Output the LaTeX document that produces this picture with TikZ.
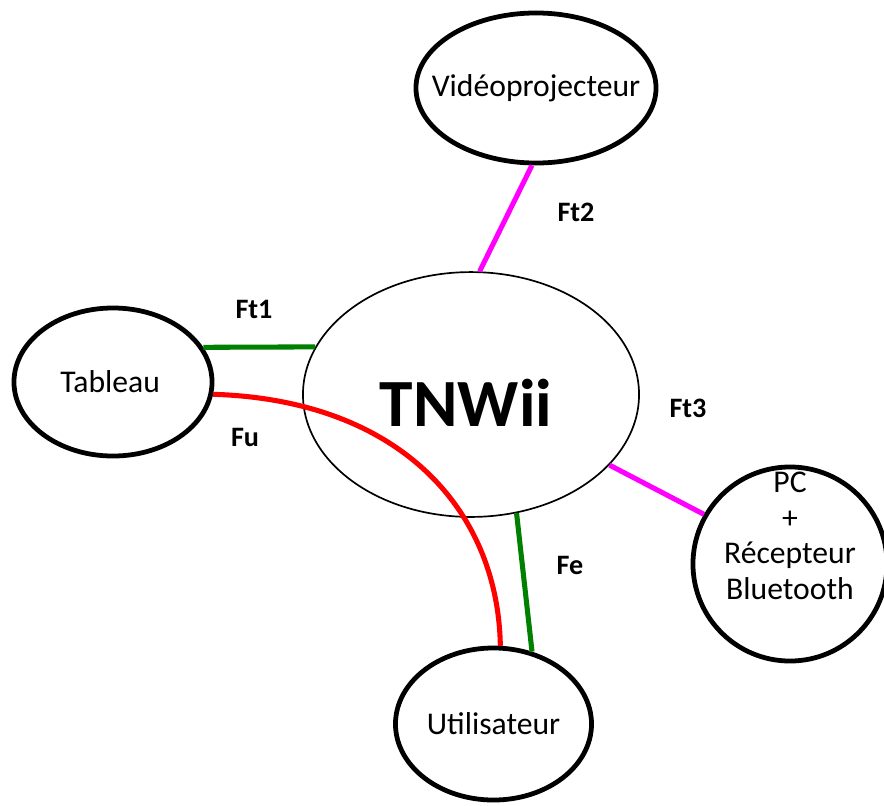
\documentclass[tikz,border=0pt]{standalone}
\usepackage{fontspec}
\setmainfont{Carlito}
\usepackage{tikz}
\usetikzlibrary{shapes.geometric}
\definecolor{ftgreen}{RGB}{0,128,0}
\definecolor{ftmagenta}{RGB}{255,0,255}
\definecolor{ftred}{RGB}{255,0,0}
\tikzset{bloc/.style = {ellipse, draw, line width=3.4pt, inner sep=0pt},
         txt/.style = {font=\fontsize{22.5}{25.5}\selectfont, align=center},
         flux/.style = {line width=3.6pt},
         fname/.style = {font=\fontsize{20}{24}\selectfont\bfseries}}

\begin{document}
\begin{tikzpicture}[x=0.025cm, y=-0.025cm]
      \useasboundingbox (0,0) rectangle (884,805);

      \node [bloc, minimum width=6cm, minimum height=3.75cm,
             label={[txt]center:Vidéoprojecteur}] (video) at (536,88) {};
      \node [ellipse, draw, line width=1.2pt, inner sep=0pt,
             minimum width=8.4cm, minimum height=6.12cm,
             label={[font=\fontsize{48}{54}\selectfont\bfseries, xshift=-3.5pt, yshift=-6pt]center:TNWii}]
             (tnwii) at (471,394.5) {};
      \node [bloc, minimum width=4.95cm, minimum height=3.7cm,
             label={[txt, xshift=-2pt]center:Tableau}] (tableau) at (113,382) {};
      \node [bloc, minimum width=4.85cm, minimum height=4.85cm,
             label={[txt, yshift=20pt]center:{PC\\+\\Récepteur\\Bluetooth}}] (pc) at (790,564) {};
      \node [bloc, minimum width=4.9cm, minimum height=3.8cm,
             label={[txt]center:Utilisateur}] (utilisateur) at (493.5,724) {};

      \draw [flux, ftmagenta] (tnwii.86) -- (video.267);
      \draw [flux, ftgreen] (tableau.21) -- (tnwii.163);
      \draw [flux, ftred] (tableau.353) .. controls (400,400) and (498,510) .. (utilisateur.85);
      \draw [flux, ftgreen] (tnwii.291) -- (utilisateur.62);
      \draw [flux, ftmagenta] (tnwii.333) -- (pc.150);

      \node [fname] (ft2) at (576,212) {Ft2};
      \node [fname] (ft1) at (254,309) {Ft1};
      \node [fname] (fu) at (245,437) {Fu};
      \node [fname] (ft3) at (688,408) {Ft3};
      \node [fname] (fe) at (570,565) {Fe};
    \end{tikzpicture}
\end{document}
